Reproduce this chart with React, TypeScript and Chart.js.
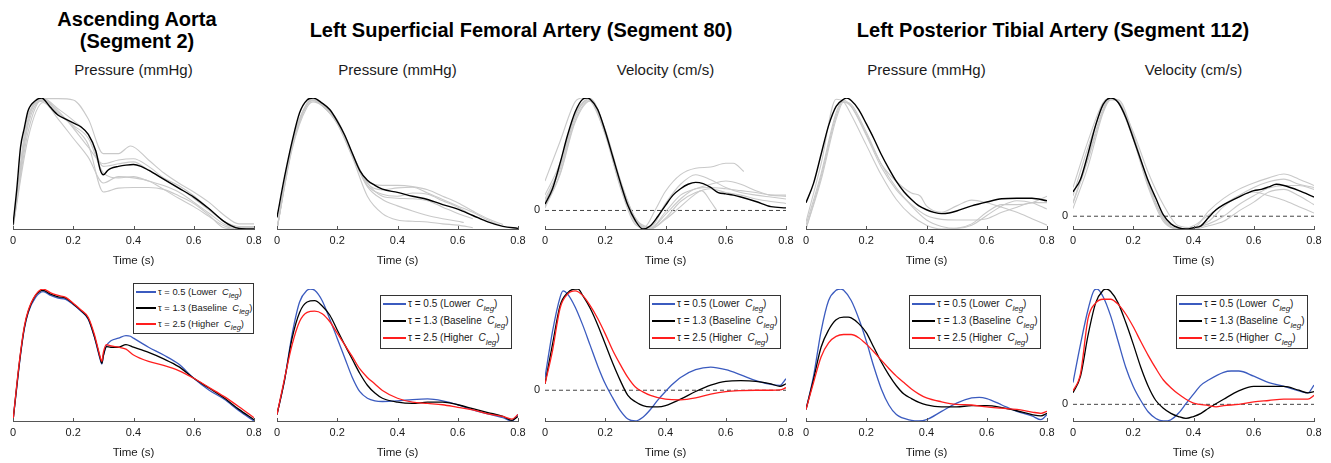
import React, { useEffect, useRef } from 'react';
import { Chart, registerables } from 'chart.js';

Chart.register(...registerables);

type Pt = [number, number];

const FONT = '"Liberation Sans", Arial, Helvetica, sans-serif';
const TEXT = '#1a1a1a';
const AXIS_COLOR = '#555555';
const GRAY = '#c9c9c9';

const TIME_TICKS = [0, 0.2, 0.4, 0.6, 0.8];
const TIME_LABELS = ['0', '0.2', '0.4', '0.6', '0.8'];
const TIME_TITLE = 'Time (s)';

const GROUP_TITLES = [
  ['Ascending Aorta', '(Segment 2)'],
  ['Left Superficial Femoral Artery (Segment 80)'],
  ['Left Posterior Tibial Artery (Segment 112)'],
];
const PANEL_TITLES = ['Pressure (mmHg)', 'Pressure (mmHg)', 'Velocity (cm/s)', 'Pressure (mmHg)', 'Velocity (cm/s)'];

const TAU_VALUES = ['0.5', '1.3', '2.5'];
const TAU_NAMES = ['Lower', 'Baseline', 'Higher'];
const TAU_COLORS = ['#3b5bbf', '#000000', '#ff1e1e'];

const ZERO_LINE: Pt[] = [[0, 0], [0.8, 0]];

// ---------- Ascending aorta pressure ----------
const AO_P_REF: Pt[] = [[0,3.25],[0.0125,31],[0.025,64],[0.0375,79],[0.05,92.5],[0.075,100.5],[0.095,102.5],[0.1,102],[0.125,95],[0.15,89],[0.175,86],[0.2,83],[0.225,80],[0.25,74],[0.275,61],[0.29,46],[0.3,42.5],[0.315,46],[0.325,47.5],[0.35,49],[0.375,50],[0.4,50.5],[0.425,49],[0.45,46],[0.5,39],[0.55,32],[0.6,25],[0.65,16],[0.7,6],[0.725,2.5],[0.75,0.5],[0.8,0]];
const AO_P_OBS: Pt[][] = [
  [[0,1.25],[0.05,76],[0.1,102],[0.15,102],[0.2,101],[0.25,86],[0.3,59],[0.35,59],[0.39,65],[0.45,54],[0.5,44],[0.55,36],[0.6,29],[0.65,21],[0.7,11],[0.75,4],[0.8,4]],
  [[0,1],[0.05,84],[0.1,101],[0.15,91],[0.2,80],[0.25,66],[0.3,29],[0.35,32],[0.4,32.5],[0.45,32.5],[0.5,31],[0.55,26],[0.6,20],[0.65,11],[0.7,1],[0.75,0],[0.8,0]],
  [[0,1],[0.05,89],[0.1,100],[0.15,90],[0.2,81],[0.25,71],[0.3,44],[0.35,40],[0.4,41],[0.45,37.5],[0.5,34],[0.55,29],[0.6,21],[0.65,12.5],[0.7,4],[0.75,1],[0.8,1]],
  [[0,1],[0.05,81],[0.1,101],[0.15,92.5],[0.2,79],[0.25,64],[0.3,51],[0.35,54],[0.4,55],[0.45,49],[0.5,40],[0.55,34],[0.6,26],[0.65,16],[0.7,6],[0.75,1],[0.8,1]],
  [[0,1],[0.05,86],[0.1,102],[0.15,94],[0.2,85],[0.25,74],[0.3,49],[0.35,51],[0.4,52.5],[0.45,46],[0.5,39],[0.55,32.5],[0.6,24],[0.65,15],[0.7,6],[0.75,2],[0.8,2]],
  [[0,1],[0.05,71],[0.1,99],[0.15,86],[0.2,71],[0.25,56],[0.3,36],[0.35,41],[0.4,40],[0.45,37.5],[0.5,31],[0.55,24],[0.6,17.5],[0.65,10],[0.7,2.5],[0.75,0],[0.8,0]],
];
const AO_P_TAU05: Pt[] = [[0,0],[0.0125,26],[0.025,51],[0.0375,71],[0.05,83.5],[0.075,95.5],[0.1,100],[0.125,97],[0.15,95],[0.175,94],[0.2,90],[0.225,85],[0.25,78.5],[0.27,65],[0.28,56],[0.29,47],[0.295,44],[0.3,50.5],[0.31,58],[0.325,62],[0.35,64],[0.375,66],[0.39,65.5],[0.4,64],[0.45,57],[0.5,51],[0.55,44],[0.6,33],[0.65,24],[0.7,17],[0.75,8],[0.8,0]];
const AO_P_TAU13: Pt[] = [[0,0],[0.0125,27],[0.025,52],[0.0375,72],[0.05,84],[0.075,97],[0.1,101],[0.125,98],[0.15,96],[0.175,95],[0.2,90.5],[0.225,85.5],[0.25,79],[0.27,65.5],[0.28,57],[0.29,48],[0.295,44.5],[0.3,50.5],[0.31,57.5],[0.325,57],[0.35,57],[0.375,59],[0.4,57],[0.45,53],[0.5,48],[0.55,42],[0.6,33],[0.65,25.5],[0.7,18],[0.75,9],[0.8,1]];
const AO_P_TAU25: Pt[] = [[0,0],[0.0125,28],[0.025,53],[0.0375,73],[0.05,85],[0.075,97.5],[0.1,102],[0.125,99],[0.15,97],[0.175,95.5],[0.2,91],[0.225,86],[0.25,80],[0.27,67],[0.28,58],[0.29,49],[0.295,46],[0.3,53],[0.31,59],[0.325,58],[0.35,57],[0.375,55.5],[0.4,51],[0.45,46],[0.5,43],[0.55,39],[0.6,33],[0.65,26],[0.7,19],[0.75,11],[0.8,2.5]];

// ---------- Left superficial femoral artery ----------
const FEM_P_REF: Pt[] = [[0,9],[0.025,40.5],[0.05,68],[0.075,90.5],[0.1,100.5],[0.12,102],[0.15,98],[0.175,93],[0.2,84],[0.225,73],[0.25,59],[0.275,45.5],[0.3,38],[0.325,34],[0.35,31],[0.4,28.5],[0.45,25.5],[0.5,23],[0.55,19],[0.6,15.5],[0.65,10.5],[0.7,5.5],[0.75,2],[0.8,0.5]];
const FEM_P_OBS: Pt[][] = [
  [[0,0],[0.05,63],[0.1,97],[0.12,100],[0.15,96],[0.2,82],[0.25,56],[0.3,25.5],[0.35,12],[0.4,7],[0.45,6],[0.5,5.5],[0.55,4],[0.6,3],[0.65,1]],
  [[0,0],[0.05,66],[0.1,98],[0.12,101],[0.15,97],[0.2,84],[0.25,57],[0.3,33],[0.35,23],[0.4,18],[0.45,14],[0.5,10.5],[0.55,8],[0.6,6],[0.62,5]],
  [[0,0],[0.05,67],[0.1,98],[0.12,101],[0.15,97],[0.2,85],[0.25,59],[0.3,37],[0.35,34],[0.4,34],[0.45,33],[0.5,30.5],[0.55,25.5],[0.6,20.5],[0.65,14],[0.7,8],[0.75,3.5]],
  [[0,0],[0.05,64],[0.1,97],[0.12,100.5],[0.15,96],[0.2,83],[0.25,58],[0.3,35.5],[0.35,30.5],[0.4,32],[0.45,32.5],[0.5,28],[0.55,23],[0.6,18],[0.65,13],[0.7,7],[0.74,3]],
  [[0,0],[0.05,65],[0.1,97],[0.12,100],[0.15,96],[0.2,82],[0.25,57],[0.3,34],[0.35,27],[0.4,25.5],[0.45,28],[0.5,27],[0.55,22],[0.6,17],[0.65,10.5],[0.68,8]],
  [[0,0],[0.05,62],[0.1,95],[0.12,99],[0.15,96],[0.2,83],[0.25,58],[0.3,36],[0.35,25.5],[0.4,24],[0.45,23.5],[0.5,22],[0.55,17],[0.6,12],[0.65,8]],
];
const FEM_P_TAU05: Pt[] = [[0,5.5],[0.025,32],[0.05,67],[0.075,92],[0.1,101],[0.11,102],[0.125,101],[0.15,93],[0.175,79],[0.2,64],[0.225,49],[0.25,34],[0.275,23],[0.3,18],[0.325,16],[0.35,15.5],[0.4,16],[0.45,17],[0.5,17.5],[0.55,16],[0.6,13],[0.65,9],[0.7,6],[0.75,3],[0.78,0.5],[0.8,5.5]];
const FEM_P_TAU13: Pt[] = [[0,5.5],[0.025,32],[0.05,64],[0.075,84],[0.1,92],[0.125,93],[0.15,89],[0.175,82],[0.2,70.5],[0.225,59],[0.25,48],[0.275,37],[0.3,28],[0.325,22],[0.35,18],[0.4,15],[0.45,14],[0.5,15],[0.55,15],[0.6,13],[0.65,10],[0.7,7],[0.75,4],[0.78,1],[0.8,4]];
const FEM_P_TAU25: Pt[] = [[0,5.5],[0.025,33],[0.05,59],[0.075,77],[0.1,84],[0.125,85],[0.15,83],[0.175,77],[0.2,68],[0.225,59],[0.25,50],[0.275,40.5],[0.3,34],[0.325,29],[0.35,24],[0.4,18],[0.45,15],[0.5,14],[0.55,13],[0.6,11],[0.65,9],[0.7,6],[0.75,4],[0.78,2],[0.8,5.5]];

const FEM_V_REF: Pt[] = [[0,5],[0.025,17],[0.05,37],[0.075,59],[0.1,77],[0.125,87],[0.14,88],[0.15,87],[0.175,79],[0.2,62],[0.225,42],[0.25,22],[0.275,4],[0.3,-8],[0.325,-14.5],[0.35,-12],[0.375,-4.5],[0.4,4],[0.425,12],[0.45,17],[0.475,20.5],[0.5,22],[0.525,21],[0.55,18],[0.575,14],[0.6,13],[0.625,12],[0.65,10.5],[0.7,7],[0.75,3],[0.8,2]];
const FEM_V_OBS: Pt[][] = [
  [[0,23],[0.05,54],[0.1,85],[0.125,88],[0.15,86],[0.2,60],[0.25,22],[0.3,-6],[0.33,-13],[0.365,0],[0.4,15],[0.45,28],[0.5,33],[0.55,34],[0.6,37],[0.625,37],[0.66,30.5]],
  [[0,9],[0.05,34],[0.1,74],[0.15,87],[0.2,63],[0.25,24],[0.3,-6],[0.35,-13],[0.4,5.5],[0.45,20.5],[0.5,28],[0.55,24],[0.6,18],[0.65,14],[0.7,12],[0.75,10.5],[0.8,9]],
  [[0,7],[0.05,32],[0.1,73],[0.15,87],[0.2,62],[0.25,20.5],[0.3,-8],[0.35,-14],[0.4,-1],[0.45,12],[0.5,17],[0.55,20.5],[0.6,23],[0.65,20.5],[0.7,15.5],[0.75,12],[0.8,12]],
  [[0,3],[0.05,29],[0.1,70.5],[0.15,86],[0.2,60.5],[0.25,19],[0.3,-9.5],[0.35,-14.5],[0.4,-6],[0.45,7],[0.5,14],[0.55,17],[0.6,14],[0.65,12],[0.7,9],[0.75,7],[0.8,5.5]],
  [[0,2],[0.05,28],[0.1,69],[0.15,85.5],[0.2,59],[0.25,18],[0.3,-11],[0.35,-14.5],[0.4,-7],[0.45,3],[0.5,13],[0.52,15.5],[0.55,7],[0.57,0]],
  [[0,12],[0.05,37],[0.1,75.5],[0.15,87.5],[0.2,63],[0.25,23],[0.3,-7],[0.35,-14],[0.4,-3],[0.45,9],[0.5,17],[0.55,18],[0.6,17],[0.65,15.5],[0.7,14],[0.75,12],[0.8,11]],
];
const FEM_V_TAU05: Pt[] = [[0,10],[0.025,46],[0.05,72.5],[0.06,77.5],[0.075,75],[0.1,65],[0.125,51],[0.15,35],[0.175,19],[0.2,5],[0.225,-6],[0.25,-16],[0.275,-22.5],[0.3,-24],[0.325,-21],[0.35,-15],[0.375,-7.5],[0.4,-1],[0.425,5],[0.45,10],[0.5,16],[0.55,18],[0.6,16],[0.65,12],[0.7,7.5],[0.75,4.5],[0.78,3.75],[0.8,9]];
const FEM_V_TAU13: Pt[] = [[0,5],[0.025,36],[0.05,66],[0.075,76],[0.1,79],[0.11,79],[0.125,74],[0.15,64],[0.175,51],[0.2,36],[0.225,21],[0.25,7.5],[0.275,-4],[0.3,-9],[0.325,-12],[0.35,-13],[0.375,-13],[0.4,-12],[0.45,-7],[0.5,-1],[0.55,4],[0.6,7],[0.65,7.5],[0.7,7],[0.75,5],[0.78,3],[0.8,5]];
const FEM_V_TAU25: Pt[] = [[0,5],[0.025,31],[0.05,64],[0.075,75],[0.1,77.5],[0.125,74],[0.15,66],[0.175,56],[0.2,44],[0.225,31],[0.25,20],[0.275,10],[0.3,2.5],[0.325,-1.25],[0.35,-4],[0.4,-7],[0.45,-7.5],[0.5,-6],[0.55,-3],[0.6,-1],[0.65,-0.25],[0.7,0],[0.75,0],[0.78,0.25],[0.8,2]];

// ---------- Left posterior tibial artery ----------
const TIB_P_REF: Pt[] = [[0,20.5],[0.025,35.5],[0.05,58],[0.075,80.5],[0.1,95.5],[0.125,101],[0.135,102],[0.15,100],[0.175,93],[0.2,82],[0.225,70.5],[0.25,58],[0.275,47],[0.3,37],[0.325,29],[0.35,23],[0.375,18],[0.4,15],[0.425,13],[0.45,12],[0.475,12.5],[0.5,14],[0.55,18],[0.6,21],[0.65,23.5],[0.7,24],[0.75,24],[0.8,22]];
const TIB_P_OBS: Pt[][] = [
  [[0,5.5],[0.05,50.5],[0.1,101],[0.125,99],[0.15,89],[0.2,65.5],[0.25,42],[0.3,23],[0.35,10.5],[0.4,3],[0.45,0],[0.5,0.5],[0.55,4],[0.6,13],[0.65,19],[0.7,19],[0.75,20.5],[0.8,25.5]],
  [[0,3],[0.05,43],[0.1,90.5],[0.12,99],[0.15,95.5],[0.2,74],[0.25,50.5],[0.3,37],[0.35,28],[0.38,25.5],[0.4,18],[0.45,13],[0.5,18],[0.55,22.5],[0.6,20.5],[0.65,17],[0.7,13],[0.75,8],[0.8,3]],
  [[0,0],[0.05,40.5],[0.1,88],[0.125,100.5],[0.15,95.5],[0.2,73],[0.25,48],[0.3,30.5],[0.35,19],[0.4,10.5],[0.45,7.5],[0.5,7],[0.55,7],[0.6,8],[0.65,13],[0.7,17],[0.75,20.5],[0.8,20.5]],
  [[0,0],[0.05,38],[0.1,85.5],[0.125,99],[0.15,97],[0.2,75.5],[0.25,50.5],[0.3,32],[0.35,18],[0.4,7],[0.45,2],[0.5,0.5],[0.55,3],[0.6,10.5],[0.65,18],[0.7,22],[0.75,20.5],[0.8,15.5]],
];
const TIB_P_TAU05: Pt[] = [[0,9],[0.025,35],[0.05,70],[0.075,94],[0.1,102],[0.115,103],[0.125,102],[0.15,94],[0.175,80],[0.2,62.5],[0.225,42.5],[0.25,25],[0.275,12.5],[0.3,5],[0.35,0.5],[0.375,0],[0.4,1],[0.45,7.5],[0.5,14],[0.55,18],[0.575,18.5],[0.6,17.5],[0.65,12.5],[0.7,7.5],[0.75,4],[0.78,1],[0.8,5]];
const TIB_P_TAU13: Pt[] = [[0,9],[0.025,32.5],[0.05,57.5],[0.075,71],[0.1,79],[0.125,81],[0.14,81],[0.15,80.5],[0.175,76],[0.2,69],[0.225,57.5],[0.25,46],[0.275,36],[0.3,27.5],[0.325,21],[0.35,17.5],[0.375,14.5],[0.4,12.5],[0.45,11],[0.5,11],[0.55,12],[0.6,12],[0.65,10.5],[0.7,8],[0.75,5],[0.78,4],[0.8,6]];
const TIB_P_TAU25: Pt[] = [[0,9],[0.025,30],[0.05,50],[0.075,61],[0.1,66],[0.125,67.5],[0.15,67.5],[0.175,65],[0.2,60],[0.225,54],[0.25,47.5],[0.275,41],[0.3,35],[0.325,30],[0.35,25],[0.375,21],[0.4,18],[0.45,15],[0.5,13],[0.55,12.5],[0.6,11],[0.65,10],[0.7,9],[0.75,7],[0.78,6],[0.8,7.5]];

const TIB_V_REF: Pt[] = [[0,19],[0.025,29],[0.05,49],[0.075,71],[0.1,87.5],[0.125,92.5],[0.15,89],[0.175,77.5],[0.2,61],[0.225,44],[0.25,27.5],[0.275,14],[0.3,1],[0.325,-6],[0.35,-9],[0.375,-10],[0.4,-9],[0.425,-7.5],[0.45,-1],[0.475,5],[0.5,9],[0.55,15],[0.6,20],[0.625,21],[0.65,23],[0.675,25],[0.7,24],[0.75,20],[0.8,15]];
const TIB_V_OBS: Pt[][] = [
  [[0,22.5],[0.05,59],[0.1,89],[0.125,92.5],[0.15,90],[0.2,66],[0.25,34],[0.3,9],[0.35,-7.5],[0.4,-9],[0.45,4],[0.5,14],[0.55,21],[0.6,26],[0.65,30],[0.7,33],[0.75,29],[0.8,24]],
  [[0,11],[0.05,46],[0.1,84],[0.125,92],[0.15,89],[0.2,61],[0.25,24],[0.3,-1],[0.35,-10],[0.4,-9],[0.45,-6],[0.5,0],[0.55,9],[0.6,16],[0.65,22],[0.7,24],[0.75,24],[0.8,21]],
  [[0,6],[0.05,39],[0.1,81],[0.125,91],[0.15,91],[0.2,64],[0.25,26],[0.3,-2.5],[0.35,-10],[0.4,-9],[0.45,-4],[0.5,7.5],[0.55,16],[0.6,22.5],[0.65,27],[0.7,29],[0.75,25],[0.8,22.5]],
  [[0,10],[0.05,44],[0.1,82.5],[0.125,92],[0.15,90],[0.2,62.5],[0.25,25],[0.3,-2],[0.35,-10],[0.4,-10],[0.45,-7.5],[0.5,-4],[0.55,4],[0.6,11],[0.65,19],[0.7,21],[0.75,16],[0.8,9]],
  [[0,16],[0.05,54],[0.1,86],[0.125,92],[0.15,89],[0.2,60],[0.25,22.5],[0.3,-4],[0.35,-10],[0.4,-7.5],[0.45,1],[0.5,9],[0.55,16],[0.6,19],[0.65,16],[0.7,12.5],[0.75,7.5],[0.8,2.5]],
];
const TIB_V_TAU05: Pt[] = [[0,17],[0.025,47],[0.05,74],[0.07,89],[0.08,90],[0.1,84],[0.125,69],[0.15,49],[0.175,29],[0.2,14],[0.225,3],[0.25,-6],[0.275,-11],[0.3,-13],[0.325,-12],[0.35,-7],[0.375,0.5],[0.4,8],[0.425,15],[0.45,19],[0.5,25],[0.525,26],[0.55,26],[0.6,22],[0.65,17],[0.7,14],[0.75,10.5],[0.78,9],[0.8,15]];
const TIB_V_TAU13: Pt[] = [[0,9],[0.025,22],[0.05,54],[0.075,79],[0.1,89],[0.11,90],[0.125,88],[0.15,79],[0.175,64],[0.2,47],[0.225,29],[0.25,14],[0.275,3],[0.3,-3],[0.325,-7],[0.35,-9.5],[0.375,-11],[0.4,-9.5],[0.425,-7],[0.45,-3],[0.5,4],[0.55,10.5],[0.6,14],[0.65,14],[0.7,14],[0.75,11],[0.78,9],[0.8,10]];
const TIB_V_TAU25: Pt[] = [[0,10.5],[0.025,24],[0.05,67],[0.075,79],[0.1,82],[0.125,82],[0.15,78],[0.175,70.5],[0.2,60.5],[0.225,49],[0.25,38],[0.275,28],[0.3,19],[0.325,13],[0.35,8],[0.375,4],[0.4,1],[0.45,-1],[0.475,-2],[0.5,-1],[0.55,0],[0.6,2],[0.65,3],[0.7,4],[0.75,4],[0.78,4],[0.8,7]];

// ---------- layout ----------
const PAD_L = 14;
const PAD_R = 14;
const PAD_T = 10;
const AXIS_LEN = 241;
const CANVAS_W = PAD_L + AXIS_LEN + PAD_R;
const ROWS = [
  { top: 88, height: 182 },
  { top: 279, height: 183 },
];

type Series = { points: Pt[]; color: string; width: number; dash?: number[]; bounds?: boolean };

type ColumnSpec = {
  x0: number;
  obs: Pt[][];
  ref: Pt[];
  tau: Pt[][];
  zero: boolean;
  legend: { left: number; top: number; width: number; height: number; font: number; line: number; rows: number[] };
};

const COLUMNS: ColumnSpec[] = [
  { x0: 13, obs: AO_P_OBS, ref: AO_P_REF, tau: [AO_P_TAU05, AO_P_TAU13, AO_P_TAU25], zero: false,
    legend: { left: 133, top: 283, width: 121, height: 51, font: 9.4, line: 20, rows: [9, 25, 41] } },
  { x0: 277, obs: FEM_P_OBS, ref: FEM_P_REF, tau: [FEM_P_TAU05, FEM_P_TAU13, FEM_P_TAU25], zero: false,
    legend: { left: 380, top: 295, width: 132, height: 54, font: 10, line: 23, rows: [9, 26, 43] } },
  { x0: 545, obs: FEM_V_OBS, ref: FEM_V_REF, tau: [FEM_V_TAU05, FEM_V_TAU13, FEM_V_TAU25], zero: true,
    legend: { left: 649, top: 295, width: 132, height: 54, font: 10, line: 23, rows: [9, 26, 43] } },
  { x0: 806, obs: TIB_P_OBS, ref: TIB_P_REF, tau: [TIB_P_TAU05, TIB_P_TAU13, TIB_P_TAU25], zero: false,
    legend: { left: 909, top: 295, width: 132, height: 54, font: 10, line: 23, rows: [9, 26, 43] } },
  { x0: 1073, obs: TIB_V_OBS, ref: TIB_V_REF, tau: [TIB_V_TAU05, TIB_V_TAU13, TIB_V_TAU25], zero: true,
    legend: { left: 1176, top: 295, width: 132, height: 54, font: 10, line: 23, rows: [9, 26, 43] } },
];

const GROUP_POS = [
  { cx: 137, top: 8 },
  { cx: 521, top: 19 },
  { cx: 1053, top: 19 },
];

const axisDecor = {
  id: 'axisDecor',
  afterDraw(chart: any, _args: any, opts: any) {
    const { ctx, chartArea, scales } = chart;
    const xs = scales.x;
    const ys = scales.y;
    ctx.save();
    ctx.strokeStyle = AXIS_COLOR;
    ctx.lineWidth = 1;
    for (const t of TIME_TICKS) {
      const px = Math.round(xs.getPixelForValue(t)) + 0.5;
      ctx.beginPath();
      ctx.moveTo(px, chartArea.bottom);
      ctx.lineTo(px, chartArea.bottom - 3);
      ctx.stroke();
    }
    if (opts && opts.zero) {
      const py = ys.getPixelForValue(0);
      ctx.fillStyle = TEXT;
      ctx.font = `11px ${FONT}`;
      ctx.textAlign = 'right';
      ctx.textBaseline = 'middle';
      ctx.fillText('0', chartArea.left - 5, py);
    }
    ctx.restore();
  },
};

function PanelChart({ left, top, height, series, zero }: { left: number; top: number; height: number; series: Series[]; zero: boolean }) {
  const ref = useRef<HTMLCanvasElement>(null);
  useEffect(() => {
    const canvas = ref.current;
    if (!canvas) return;
    let yMin = Infinity;
    let yMax = -Infinity;
    series.forEach((s) => {
      if (s.bounds === false) return;
      s.points.forEach((p) => {
        yMin = Math.min(yMin, p[1]);
        yMax = Math.max(yMax, p[1]);
      });
    });
    const chart = new Chart(canvas, {
      type: 'line',
      data: {
        datasets: series.map((s) => ({
          data: s.points.map(([x, y]) => ({ x, y })),
          borderColor: s.color,
          borderWidth: s.width,
          borderDash: s.dash || [],
          pointRadius: 0,
          cubicInterpolationMode: 'monotone',
          fill: false,
        })),
      },
      options: {
        responsive: false,
        animation: false,
        devicePixelRatio: 1,
        events: [],
        layout: { padding: { left: PAD_L, right: PAD_R, top: PAD_T, bottom: 0 } },
        plugins: {
          legend: { display: false },
          tooltip: { enabled: false },
          title: { display: false },
          axisDecor: { zero },
        } as any,
        scales: {
          x: {
            type: 'linear',
            min: 0,
            max: 0.8,
            afterBuildTicks: (s: any) => {
              s.ticks = TIME_TICKS.map((v) => ({ value: v }));
            },
            ticks: {
              padding: 5,
              maxRotation: 0,
              autoSkip: false,
              color: TEXT,
              font: { family: FONT, size: 11 },
              callback: (_v: any, i: number) => TIME_LABELS[i],
            },
            grid: { display: false, drawTicks: false },
            border: { display: true, color: AXIS_COLOR, width: 1 },
            title: {
              display: true,
              text: TIME_TITLE,
              color: TEXT,
              font: { family: FONT, size: 11.5 },
              padding: { top: 2, bottom: 2 },
            },
          },
          y: { display: false, min: yMin, max: yMax },
        },
      } as any,
      plugins: [axisDecor as any],
    });
    return () => chart.destroy();
  }, []);
  return (
    <canvas
      ref={ref}
      width={CANVAS_W}
      height={height}
      style={{ position: 'absolute', left, top, width: CANVAS_W, height }}
    />
  );
}

function Legend({ spec }: { spec: ColumnSpec['legend'] }) {
  return (
    <div
      style={{
        position: 'absolute',
        left: spec.left,
        top: spec.top,
        width: spec.width,
        height: spec.height,
        boxSizing: 'border-box',
        border: '1px solid #333',
        background: '#fff',
        zIndex: 2,
        fontFamily: FONT,
        fontSize: spec.font,
        color: TEXT,
      }}
    >
      {TAU_VALUES.map((v, i) => (
        <React.Fragment key={v}>
          <div
            style={{
              position: 'absolute',
              left: 2,
              top: spec.rows[i] - 2,
              width: spec.line,
              height: 2,
              background: TAU_COLORS[i],
            }}
          />
          <span
            style={{
              position: 'absolute',
              left: spec.line + 4,
              top: spec.rows[i] - 9,
              height: 16,
              whiteSpace: 'nowrap',
              lineHeight: '16px',
            }}
          >
            τ = {v} ({TAU_NAMES[i]}&nbsp;&nbsp;<i>C</i>
            <sub style={{ fontSize: '0.8em', lineHeight: 0, verticalAlign: '-0.45em' }}>
              <i>leg</i>
            </sub>
            )
          </span>
        </React.Fragment>
      ))}
    </div>
  );
}

export default function App() {
  return (
    <div style={{ position: 'absolute', left: 0, top: 0, width: 1331, height: 463, background: '#fff', overflow: 'hidden' }}>
      {GROUP_TITLES.map((lines, g) => (
        <div
          key={g}
          style={{
            position: 'absolute',
            left: GROUP_POS[g].cx - 300,
            top: GROUP_POS[g].top,
            width: 600,
            textAlign: 'center',
            fontFamily: FONT,
            fontWeight: 'bold',
            fontSize: 20,
            lineHeight: '22px',
            color: '#000',
          }}
        >
          {lines.map((l) => (
            <div key={l}>{l}</div>
          ))}
        </div>
      ))}
      {COLUMNS.map((c, i) => (
        <div
          key={'t' + i}
          style={{
            position: 'absolute',
            left: c.x0 + AXIS_LEN / 2 - 100,
            top: 61,
            width: 200,
            textAlign: 'center',
            fontFamily: FONT,
            fontSize: 15,
            lineHeight: '18px',
            color: TEXT,
          }}
        >
          {PANEL_TITLES[i]}
        </div>
      ))}
      {COLUMNS.map((c, i) => {
        const topSeries: Series[] = [
          { points: c.ref, color: '#000', width: 1.4 },
          ...c.obs.map((o) => ({ points: o, color: GRAY, width: 1.1 })),
        ];
        const botSeries: Series[] = [
          { points: c.tau[2], color: TAU_COLORS[2], width: 1.3 },
          { points: c.tau[1], color: TAU_COLORS[1], width: 1.3 },
          { points: c.tau[0], color: TAU_COLORS[0], width: 1.3 },
        ];
        if (c.zero) {
          const z: Series = { points: ZERO_LINE, color: '#444', width: 1, dash: [4, 3], bounds: false };
          topSeries.push(z);
          botSeries.push(z);
        }
        return (
          <React.Fragment key={'p' + i}>
            <PanelChart left={c.x0 - PAD_L} top={ROWS[0].top} height={ROWS[0].height} series={topSeries} zero={c.zero} />
            <PanelChart left={c.x0 - PAD_L} top={ROWS[1].top} height={ROWS[1].height} series={botSeries} zero={c.zero} />
            <Legend spec={c.legend} />
          </React.Fragment>
        );
      })}
    </div>
  );
}
